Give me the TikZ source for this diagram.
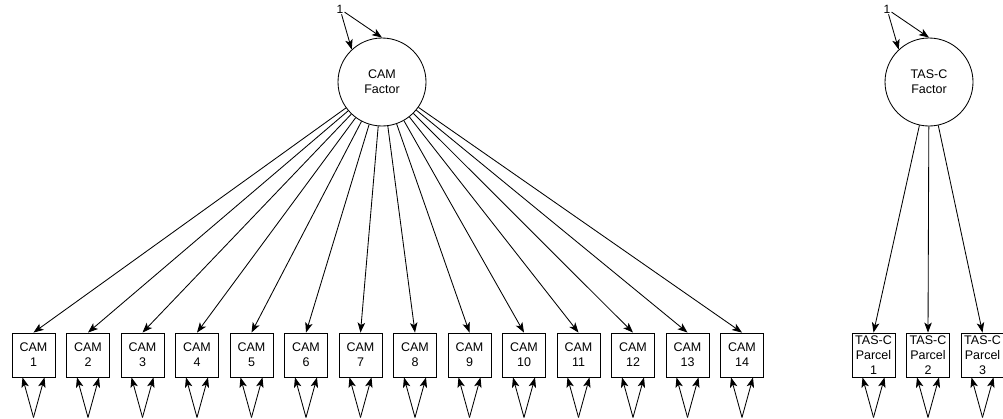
\documentclass[tikz,border=0pt]{standalone}
\usepackage{fontspec}
\setmainfont{Liberation Sans}
\usetikzlibrary{arrows.meta,calc}
\begin{document}
\begin{tikzpicture}[x=1pt,y=-1pt,
  arr/.style={-{Stealth[length=10pt,width=7.5pt,inset=2.5pt]},line width=0.85pt},
  latent/.style={circle,draw,line width=0.85pt,minimum size=88pt,inner sep=0pt,align=center,font=\fontsize{12.5}{15}\selectfont},
  obsbox/.style={draw,line width=0.85pt,minimum width=43pt,minimum height=44pt,inner sep=0pt,align=center,font=\fontsize{12.5}{15}\selectfont},
  onelabel/.style={inner sep=1pt,font=\fontsize{12}{14}\selectfont}]
\useasboundingbox (0,0) rectangle (1003,418);
% CAM factor
\node[latent] (cam) at (382,82) {CAM\\Factor};
\node[onelabel] (one1) at (340,9) {1};
\draw[arr] (one1) -- (cam.133);
\draw[arr] (one1) -- (cam.90);
\foreach \i in {1,...,14}{
  \node[obsbox] (b\i) at ({33.5+54.5*(\i-1)},355) {CAM\\\i};
  \draw[arr] (cam) -- (b\i.north);
  \coordinate (lp\i) at ($(b\i.south)+(0,40)$);
  \draw[arr] (lp\i) -- ($(b\i.south)+(-11,0)$);
  \draw[arr] (lp\i) -- ($(b\i.south)+(11,0)$);
}
% TAS-C factor
\node[latent] (tas) at (929,82) {TAS-C\\Factor};
\node[onelabel] (one2) at (887,9) {1};
\draw[arr] (one2) -- (tas.133);
\draw[arr] (one2) -- (tas.90);
\foreach \i in {1,2,3}{
  \node[obsbox] (t\i) at ({873.5+54.5*(\i-1)},355) {TAS-C\\Parcel\\\i};
  \draw[arr] (tas) -- (t\i.north);
  \coordinate (tl\i) at ($(t\i.south)+(0,40)$);
  \draw[arr] (tl\i) -- ($(t\i.south)+(-11,0)$);
  \draw[arr] (tl\i) -- ($(t\i.south)+(11,0)$);
}
\end{tikzpicture}
\end{document}
